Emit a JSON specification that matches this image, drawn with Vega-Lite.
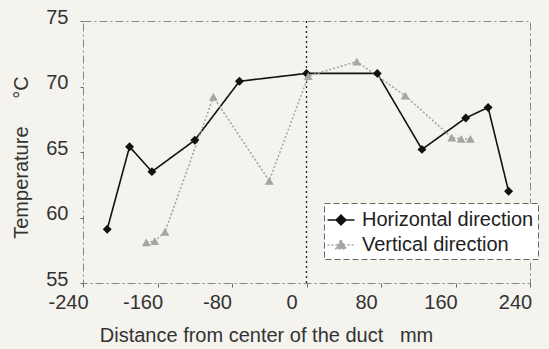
{
  "$schema": "https://vega.github.io/schema/vega-lite/v6.json",
  "autosize": "none",
  "width": 447,
  "height": 262,
  "padding": {"left": 83, "top": 21, "right": 19, "bottom": 66},
  "background": "#f5f3ee",
  "config": {
    "font": "Liberation Sans",
    "view": {"stroke": "#8a8a8a", "strokeDash": [8, 3, 2, 3], "strokeWidth": 1}
  },
  "datasets": {
    "pts": [
      {"d": "Horizontal direction", "x": -214, "t": 59.1},
      {"d": "Horizontal direction", "x": -190, "t": 65.4},
      {"d": "Horizontal direction", "x": -166, "t": 63.5},
      {"d": "Horizontal direction", "x": -120, "t": 65.9},
      {"d": "Horizontal direction", "x": -72, "t": 70.4},
      {"d": "Horizontal direction", "x": 0, "t": 71.0},
      {"d": "Horizontal direction", "x": 76, "t": 71.0},
      {"d": "Horizontal direction", "x": 124, "t": 65.2},
      {"d": "Horizontal direction", "x": 171, "t": 67.6},
      {"d": "Horizontal direction", "x": 195, "t": 68.4},
      {"d": "Horizontal direction", "x": 217, "t": 62.0},
      {"d": "Vertical direction", "x": -172, "t": 58.1},
      {"d": "Vertical direction", "x": -163, "t": 58.2},
      {"d": "Vertical direction", "x": -152, "t": 58.9},
      {"d": "Vertical direction", "x": -100, "t": 69.2},
      {"d": "Vertical direction", "x": -40, "t": 62.8},
      {"d": "Vertical direction", "x": 2, "t": 70.8},
      {"d": "Vertical direction", "x": 54, "t": 71.9},
      {"d": "Vertical direction", "x": 106, "t": 69.3},
      {"d": "Vertical direction", "x": 156, "t": 66.1},
      {"d": "Vertical direction", "x": 166, "t": 66.0},
      {"d": "Vertical direction", "x": 176, "t": 66.0}
    ],
    "zero": [{"x": 0}]
  },
  "layer": [
    {
      "data": {"name": "zero"},
      "mark": {"type": "rule", "color": "#222", "strokeDash": [2, 3], "strokeWidth": 1.3},
      "encoding": {"x": {"field": "x", "type": "quantitative"}}
    },
    {
      "data": {"name": "pts"},
      "mark": {"type": "line", "strokeWidth": 1.6},
      "encoding": {
        "x": {"field": "x", "type": "quantitative", "scale": {"domain": [-240, 240], "nice": false},
          "axis": {"values": [-240, -160, -80, 0, 80, 160, 240], "grid": false, "domain": false, "tickSize": 4, "tickColor": "#666",
            "labelFontSize": 20, "labelColor": "#333", "labelPadding": 5, "labelOffset": -15, "labelFlush": false, "labelOverlap": false,
            "labelExpr": "toString(datum.value)",
            "title": "Distance from center of the duct\u00a0\u00a0\u00a0mm", "titleFontSize": 20, "titleFontWeight": "normal", "titleColor": "#333",
            "titleX": 183, "titleY": 52, "titleBaseline": "middle", "titleAlign": "center"}},
        "y": {"field": "t", "type": "quantitative", "scale": {"domain": [55, 75], "nice": false, "zero": false},
          "axis": {"values": [55, 60, 65, 70, 75], "grid": false, "domain": false, "tickSize": 3, "tickColor": "#666",
            "labelFontSize": 20, "labelColor": "#333", "labelPadding": 12, "labelFlush": false, "labelOffset": -4,
            "title": "Temperature\u00a0\u00a0\u00a0\u00a0\u00a0°C", "titleFontSize": 20, "titleFontWeight": "normal", "titleColor": "#333",
            "titleX": -62, "titleY": 136, "titleAngle": -90, "titleBaseline": "middle", "titleAlign": "center"}},
        "color": {"field": "d", "type": "nominal", "scale": {"domain": ["Horizontal direction", "Vertical direction"], "range": ["#111111", "#a5a5a5"]},
          "legend": {"title": null, "orient": "none", "legendX": 241, "legendY": 182, "labelFontSize": 20, "labelColor": "#222", "labelLimit": 0,
            "fillColor": "#ffffff", "strokeColor": "#666", "padding": 4, "rowPadding": 2, "symbolSize": 600, "labelOffset": 8,
            "encoding": {
              "legend": {"strokeDash": {"value": [6, 3]}},
              "symbols": {
                "shape": {"value": {"expr": "datum.value == 'Horizontal direction' ? 'M-1.1,0H1.1M0,-0.4L0.4,0L0,0.4L-0.4,0Z' : 'M-1.1,0H1.1M0,-0.42L0.42,0.3L-0.42,0.3Z'"}},
                "stroke": {"value": {"expr": "datum.value == 'Horizontal direction' ? '#111111' : '#a5a5a5'"}},
                "fill": {"value": {"expr": "datum.value == 'Horizontal direction' ? '#111111' : '#a5a5a5'"}},
                "strokeWidth": {"value": 1.5},
                "opacity": {"value": 1}
              }
            }}},
        "strokeDash": {"field": "d", "type": "nominal", "scale": {"domain": ["Horizontal direction", "Vertical direction"], "range": [[1, 0], [2, 2]]}}
      }
    },
    {
      "data": {"name": "pts"},
      "transform": [{"filter": "datum.d == 'Horizontal direction'"}],
      "mark": {"type": "point", "filled": true, "opacity": 1, "size": 80, "shape": "diamond"},
      "encoding": {
        "x": {"field": "x", "type": "quantitative"},
        "y": {"field": "t", "type": "quantitative"},
        "color": {"field": "d", "type": "nominal"}
      }
    },
    {
      "data": {"name": "pts"},
      "transform": [{"filter": "datum.d == 'Vertical direction'"}],
      "mark": {"type": "point", "filled": true, "opacity": 1, "size": 80, "shape": "triangle-up"},
      "encoding": {
        "x": {"field": "x", "type": "quantitative"},
        "y": {"field": "t", "type": "quantitative"},
        "color": {"field": "d", "type": "nominal"}
      }
    }
  ]
}
